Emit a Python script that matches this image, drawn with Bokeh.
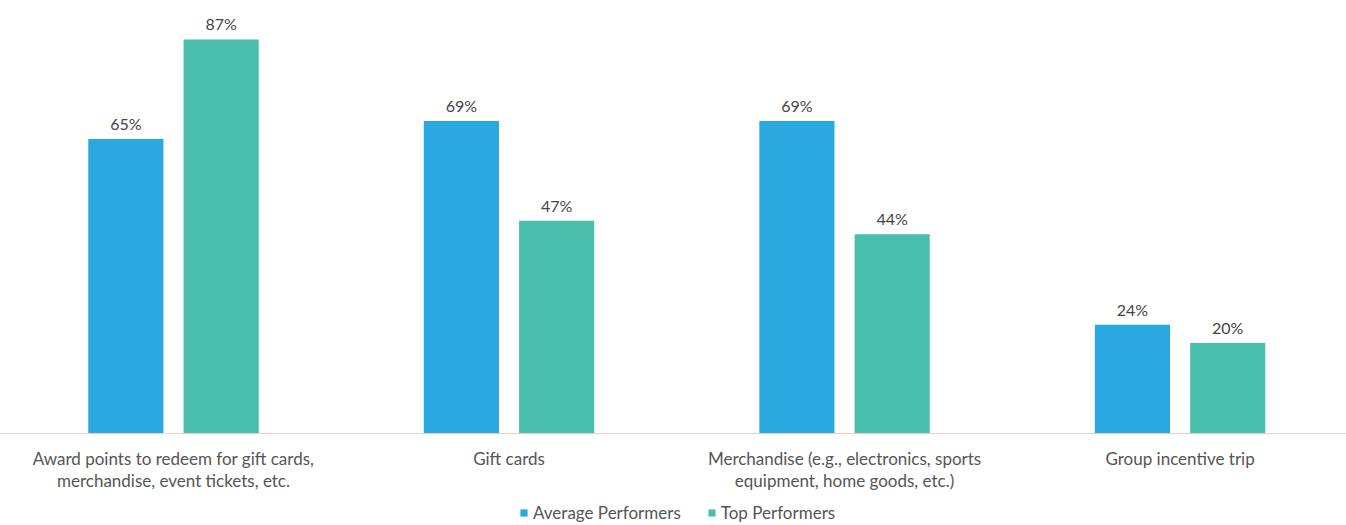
from bokeh.plotting import figure
from bokeh.models import ColumnDataSource, Range1d, Legend, LegendItem, Span
from bokeh.transform import dodge
from bokeh.core.properties import value
from bokeh.embed import file_html
from bokeh.resources import INLINE

categories = ["Award points to redeem for gift cards,\nmerchandise, event tickets, etc.",
              "Gift cards",
              "Merchandise (e.g., electronics, sports\nequipment, home goods, etc.)",
              "Group incentive trip"]
average = [65, 69, 69, 24]
top = [87, 47, 44, 20]
series_names = ["Average Performers", "Top Performers"]

xs = [i + 0.5 for i in range(len(categories))]
src = ColumnDataSource(dict(
    x=xs, avg=average, top=top, cat=categories, zero=[0] * len(categories),
    avg_lbl=[f"{v}%" for v in average], top_lbl=[f"{v}%" for v in top]))

BLUE = "#2aa9e0"
TEAL = "#4bbfad"
FONT = "Lato"

p = figure(width=1346, height=525, output_backend="svg", toolbar_location=None,
           x_range=Range1d(-0.0156, 3.996), y_range=Range1d(-20.31, 95.6),
           min_border_left=0, min_border_right=0, min_border_top=0, min_border_bottom=0,
           outline_line_color=None)
p.background_fill_color = "white"
p.border_fill_color = "white"
p.axis.visible = False
p.grid.visible = False

r1 = p.vbar(x=dodge("x", -0.142, range=p.x_range), top="avg", width=0.224, source=src,
            fill_color=BLUE, line_color=None)
r2 = p.vbar(x=dodge("x", 0.142, range=p.x_range), top="top", width=0.224, source=src,
            fill_color=TEAL, line_color=None)

for off, col in [(-0.142, "avg"), (0.142, "top")]:
    p.text(x=dodge("x", off, range=p.x_range), y=col, text=col + "_lbl", source=src,
           text_align="center", text_baseline="bottom", y_offset=-6,
           text_font_size="16px", text_color="#444444", text_font=value(FONT))

# baseline (category axis line)
p.add_layout(Span(location=0, dimension="width", line_color="#dcd3d1", line_width=1))

# category labels below the baseline
p.text(x="x", y="zero", text="cat", source=src, text_align="center", text_baseline="top",
       y_offset=14, text_font_size="17px", text_color="#555555", text_font=value(FONT),
       text_line_height=1.05)

legend = Legend(items=[LegendItem(label=series_names[0], renderers=[r1]),
                       LegendItem(label=series_names[1], renderers=[r2])],
                orientation="horizontal", location=(519, 2),
                label_text_font=FONT, label_text_font_size="17px", label_text_color="#555555",
                label_height=16, glyph_width=9, glyph_height=9, label_standoff=5, spacing=26,
                padding=0, margin=0, border_line_color=None, background_fill_alpha=0)
p.add_layout(legend, "center")

open("out.html", "w").write(file_html(p, INLINE))
